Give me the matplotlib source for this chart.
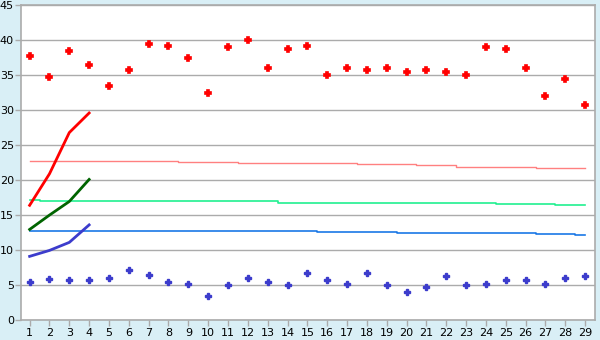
import matplotlib
matplotlib.use("Agg")
import matplotlib.pyplot as plt

# категории по оси X
days = list(range(1, 30))

# точки (красные и синие)
red_pts = [37.8, 34.7, 38.4, 36.4, 33.5, 35.7, 39.4, 39.2, 37.4, 32.5,
           39.1, 40.1, 36.0, 38.7, 39.2, 35.0, 36.0, 35.7, 36.1, 35.4,
           35.7, 35.5, 35.1, 39.0, 38.8, 36.0, 32.0, 34.4, 30.7]
blue_pts = [5.5, 5.8, 5.7, 5.7, 5.95, 7.1, 6.4, 5.4, 5.2, 3.4,
            4.95, 5.95, 5.4, 4.95, 6.7, 5.7, 5.2, 6.7, 4.95, 3.95,
            4.7, 6.25, 4.95, 5.1, 5.7, 5.7, 5.1, 5.95, 6.25]

# почти горизонтальные линии
pink_line = [22.67] * 8 + [22.53] * 3 + [22.38] * 6 + [22.24] * 3 + [22.1] * 2 \
    + [21.95] * 4 + [21.8] * 2 + [21.67]
green_line = [17.1] + [16.95] * 12 + [16.8] * 4 + [16.67] * 7 + [16.52] * 3 + [16.38] * 2
blue_line = [12.67] * 15 + [12.53] * 4 + [12.38] * 7 + [12.24] * 2 + [12.1]

# кривые на первых четырёх днях
curve_x = [1, 2, 3, 4]
red_curve = [16.4, 20.9, 26.8, 29.6]
green_curve = [12.95, 15.0, 16.95, 20.1]
blue_curve = [9.1, 9.95, 11.1, 13.6]

bg = '#d9eff6'
grid_c = '#ababab'

fig = plt.figure(figsize=(6, 3.4), dpi=100, facecolor=bg)
ax = fig.add_axes([0.0345, 0.0588, 0.9572, 0.9256])
ax.set_facecolor('white')

ax.yaxis.grid(True, color=grid_c, lw=1)
ax.set_axisbelow(True)

ax.plot(days, pink_line, color='#ff8080', lw=1, drawstyle='steps-mid')
ax.plot(days, green_line, color='#20f090', lw=1.2, drawstyle='steps-mid')
ax.plot(days, blue_line, color='#1a78e6', lw=1.2, drawstyle='steps-mid')

ax.plot(curve_x, red_curve, color='#ff0000', lw=2)
ax.plot(curve_x, green_curve, color='#006400', lw=2)
ax.plot(curve_x, blue_curve, color='#3c3ccc', lw=2)

ax.plot(days, red_pts, linestyle='none', marker='P', markersize=4.5,
        color='#ff0000', markeredgewidth=1.2)
ax.plot(days, blue_pts, linestyle='none', marker='P', markersize=4,
        color='#3c3ccc', markeredgewidth=1)

ax.set_xlim(0.55, 29.5)
ax.set_ylim(0, 45)
ax.set_xticks(days)
ax.set_yticks(range(0, 46, 5))

for s in ax.spines.values():
    s.set_color(grid_c)
    s.set_linewidth(1.2)

ax.tick_params(axis='both', colors=grid_c, labelcolor='black', labelsize=8,
               length=4, width=1, pad=1)
ax.tick_params(axis='x', pad=2)

fig.savefig('out.png', dpi=100, facecolor=bg)
